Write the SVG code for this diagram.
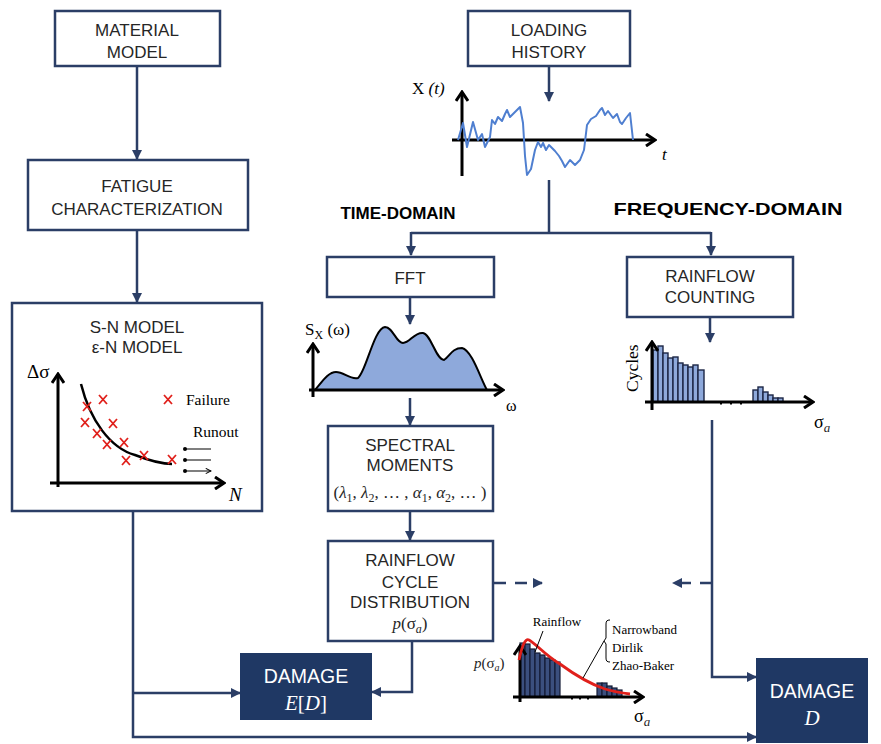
<svg xmlns="http://www.w3.org/2000/svg" width="881" height="744" viewBox="0 0 881 744">
  <defs>
    <style>
      .box { fill: #ffffff; stroke: #2b3e66; stroke-width: 2.5; }
      .dark { fill: #1f3864; stroke: #1f3864; stroke-width: 2; }
      .lbl { font-family: "Liberation Sans", Arial, sans-serif; font-size: 17px; fill: #262626; text-anchor: middle; }
      .wlbl { font-family: "Liberation Sans", Arial, sans-serif; font-size: 19.5px; fill: #ffffff; text-anchor: middle; }
      .wmath { font-family: "Liberation Serif", "Times New Roman", serif; font-style: italic; font-size: 21px; fill: #ffffff; text-anchor: middle; }
      .head { font-family: "Liberation Sans", Arial, sans-serif; font-size: 17px; font-weight: bold; fill: #000000; text-anchor: middle; }
      .ser { font-family: "Liberation Serif", "Times New Roman", serif; fill: #000000; }
      .math { font-family: "Liberation Serif", "Times New Roman", serif; font-style: italic; fill: #262626; }
      .conn { fill: none; stroke: #2b3e66; stroke-width: 2.5; }
      .dash { stroke-dasharray: 12 9; }
      .axis { fill: none; stroke: #000000; stroke-width: 3; }
      .fx { fill: none; stroke: #e0201b; stroke-width: 1.8; }
      .bar { fill: #8ea9db; stroke: #1c2645; stroke-width: 1.4; }
      .bar2 { fill: #3b4f7e; stroke: #141c36; stroke-width: 1.2; }
    </style>
    <marker id="arr" viewBox="0 0 10 10" refX="9" refY="5" markerWidth="10" markerHeight="10" markerUnits="userSpaceOnUse" orient="auto">
      <path d="M0,0 L10,5 L0,10 Z" fill="#2b3e66"/>
    </marker>
    <marker id="ax" viewBox="0 0 12 14" refX="10" refY="7" markerWidth="12" markerHeight="14" markerUnits="userSpaceOnUse" orient="auto">
      <path d="M1,1 L10,7 L1,13" fill="none" stroke="#000" stroke-width="3"/>
    </marker>
    <marker id="ro" viewBox="0 0 8 8" refX="7" refY="4" markerWidth="7" markerHeight="7" markerUnits="userSpaceOnUse" orient="auto">
      <path d="M1,1 L7,4 L1,7" fill="none" stroke="#000" stroke-width="1.2"/>
    </marker>
  </defs>

  <rect width="881" height="744" fill="#ffffff"/>

  <!-- connectors -->
  <g id="connectors">
    <path class="conn" d="M137,66 V159" marker-end="url(#arr)"/>
    <path class="conn" d="M137,230 V302" marker-end="url(#arr)"/>
    <path class="conn" d="M549,66 V101" marker-end="url(#arr)"/>
    <path class="conn" d="M549,180 V233"/>
    <path class="conn" d="M411,233 H711"/>
    <path class="conn" d="M411,232 V255" marker-end="url(#arr)"/>
    <path class="conn" d="M711,232 V255" marker-end="url(#arr)"/>
    <path class="conn" d="M410,297 V324" marker-end="url(#arr)"/>
    <path class="conn" d="M410,398 V425" marker-end="url(#arr)"/>
    <path class="conn" d="M710,317 V342" marker-end="url(#arr)"/>
    <path class="conn" d="M410,511 V540" marker-end="url(#arr)"/>
    <path class="conn dash" d="M494,583 H542" marker-end="url(#arr)"/>
    <path class="conn dash" d="M712,583 H673" marker-end="url(#arr)"/>
    <path class="conn" d="M712,420 V677 H756" marker-end="url(#arr)"/>
    <path class="conn" d="M133,511 V737 H756" marker-end="url(#arr)"/>
    <path class="conn" d="M133,693 H240" marker-end="url(#arr)"/>
    <path class="conn" d="M412,641 V692 H372" marker-end="url(#arr)"/>
  </g>

  <!-- material model -->
  <g id="material-model">
    <rect class="box" x="55" y="11" width="165" height="55"/>
    <text class="lbl" x="137" y="36">MATERIAL</text>
    <text class="lbl" x="137" y="58">MODEL</text>
  </g>

  <!-- fatigue characterization -->
  <g id="fatigue-characterization">
    <rect class="box" x="28" y="160" width="220" height="70"/>
    <text class="lbl" x="137" y="192">FATIGUE</text>
    <text class="lbl" x="137" y="215">CHARACTERIZATION</text>
  </g>

  <!-- S-N / e-N model with curve -->
  <g id="sn-model">
    <rect class="box" x="12" y="303" width="250" height="208"/>
    <text class="lbl" x="137" y="333">S-N MODEL</text>
    <text class="lbl" x="137" y="353">ε-N MODEL</text>
    <text class="ser" x="27" y="378" font-size="19">Δσ</text>
    <path class="axis" d="M58,487 V374" marker-end="url(#ax)"/>
    <path class="axis" d="M50,483 H224" marker-end="url(#ax)"/>
    <text class="ser" x="229" y="501" font-size="19" font-style="italic">N</text>
    <path d="M81,384 C90,420 110,448 135,455 C148,460 160,464 172,464" fill="none" stroke="#000" stroke-width="2.5"/>
    <g id="failure-marks">
      <path class="fx" d="M83,402 l8,9 M91,402 l-8,9"/>
      <path class="fx" d="M99,395 l8,9 M107,395 l-8,9"/>
      <path class="fx" d="M81,418 l8,9 M89,418 l-8,9"/>
      <path class="fx" d="M109,419 l8,9 M117,419 l-8,9"/>
      <path class="fx" d="M93,429 l8,9 M101,429 l-8,9"/>
      <path class="fx" d="M103,440 l8,9 M111,440 l-8,9"/>
      <path class="fx" d="M120,438 l8,9 M128,438 l-8,9"/>
      <path class="fx" d="M122,456 l8,9 M130,456 l-8,9"/>
      <path class="fx" d="M140,451 l8,9 M148,451 l-8,9"/>
      <path class="fx" d="M168,455 l8,9 M176,455 l-8,9"/>
      <path class="fx" d="M164,395 l8,9 M172,395 l-8,9"/>
    </g>
    <text class="ser" x="186" y="405" font-size="15.5">Failure</text>
    <text class="ser" x="193" y="437" font-size="15.5">Runout</text>
    <g id="runout-marks">
      <circle cx="185" cy="449" r="2"/>
      <circle cx="185" cy="460" r="2"/>
      <circle cx="185" cy="471" r="2"/>
      <path d="M185,449 H211 M185,460 H211 M185,471 H211" fill="none" stroke="#000" stroke-width="1.2" marker-end="url(#ro)"/>
    </g>
  </g>

  <!-- loading history -->
  <g id="loading-history">
    <rect class="box" x="468" y="11" width="162" height="55"/>
    <text class="lbl" x="549" y="36">LOADING</text>
    <text class="lbl" x="549" y="58">HISTORY</text>
  </g>

  <!-- load time series X(t) -->
  <g id="time-series">
    <text class="ser" x="412" y="94" font-size="17">X <tspan font-style="italic">(t)</tspan></text>
    <path class="axis" d="M462,176 V92" marker-end="url(#ax)"/>
    <path class="axis" d="M452,140 H655" marker-end="url(#ax)"/>
    <text class="ser" x="662" y="160" font-size="17" font-style="italic">t</text>
    <polyline fill="none" stroke="#4f7fd0" stroke-width="2" stroke-linejoin="round" points="458,140 463,123 467,147 473,122 478,140 482,134 485,147 490,137 492,120 495,124 498,117 502,121 505,114 507,110 510,117 515,112 520,107 523,123 525,156 527,175 531,169 535,150 538,142 541,147 543,143 546,150 549,145 552,148 555,151 559,156 562,161 565,167 570,160 575,165 580,160 584,150 587,125 591,119 596,116 600,110 602,108 605,115 608,111 613,118 617,114 620,122 622,124 626,118 630,113 633,140"/>
  </g>

  <!-- section headings -->
  <text class="head" x="398" y="219">TIME-DOMAIN</text>
  <text class="head" x="728" y="215" font-size="19" textLength="229" lengthAdjust="spacingAndGlyphs">FREQUENCY-DOMAIN</text>

  <!-- FFT -->
  <g id="fft">
    <rect class="box" x="327" y="257" width="167" height="40"/>
    <text class="lbl" x="410" y="284">FFT</text>
  </g>

  <!-- power spectral density -->
  <g id="psd">
    <path d="M315,390 C322,382 328,372 336,372 C344,372 350,380 358,378 C366,372 374,328 385,327 C393,327 396,343 403,343 C410,343 414,332 423,333 C431,334 436,360 444,360 C450,356 452,348 462,348 C472,350 481,380 487,390 Z" fill="#8ea9db" stroke="#000" stroke-width="2"/>
    <path class="axis" d="M313,397 V344" marker-end="url(#ax)"/>
    <path class="axis" d="M309,390 H503" marker-end="url(#ax)"/>
    <text class="ser" x="305" y="335" font-size="17">S<tspan font-size="12" dy="4">X</tspan><tspan dy="-4"> (ω)</tspan></text>
    <text class="ser" x="506" y="411" font-size="16">ω</text>
  </g>

  <!-- spectral moments -->
  <g id="spectral-moments">
    <rect class="box" x="328" y="426" width="165" height="85"/>
    <text class="lbl" x="410" y="451">SPECTRAL</text>
    <text class="lbl" x="410" y="471">MOMENTS</text>
    <text class="math" x="410" y="498" font-size="17" text-anchor="middle"><tspan font-style="normal">(</tspan>λ<tspan font-size="12" dy="4" font-style="normal">1</tspan><tspan dy="-4" font-style="normal">, </tspan>λ<tspan font-size="12" dy="4" font-style="normal">2</tspan><tspan dy="-4" font-style="normal">, … , </tspan>α<tspan font-size="12" dy="4" font-style="normal">1</tspan><tspan dy="-4" font-style="normal">, </tspan>α<tspan font-size="12" dy="4" font-style="normal">2</tspan><tspan dy="-4" font-style="normal">, … )</tspan></text>
  </g>

  <!-- rainflow cycle distribution -->
  <g id="rainflow-distribution">
    <rect class="box" x="328" y="541" width="165" height="100"/>
    <text class="lbl" x="410" y="566">RAINFLOW</text>
    <text class="lbl" x="410" y="588">CYCLE</text>
    <text class="lbl" x="410" y="608">DISTRIBUTION</text>
    <text class="math" x="410" y="629" font-size="17" text-anchor="middle">p<tspan font-style="normal">(σ</tspan><tspan font-size="12" dy="4">a</tspan><tspan font-style="normal" dy="-4">)</tspan></text>
  </g>

  <!-- rainflow counting -->
  <g id="rainflow-counting">
    <rect class="box" x="627" y="257" width="166" height="60"/>
    <text class="lbl" x="710" y="282">RAINFLOW</text>
    <text class="lbl" x="710" y="303">COUNTING</text>
  </g>

  <!-- counted cycles histogram -->
  <g id="cycle-histogram">
    <rect class="bar" x="653" y="350" width="5" height="52"/>
    <rect class="bar" x="658" y="346" width="5" height="56"/>
    <rect class="bar" x="663" y="353" width="5" height="49"/>
    <rect class="bar" x="668" y="358" width="5" height="44"/>
    <rect class="bar" x="673" y="357" width="5" height="45"/>
    <rect class="bar" x="678" y="363" width="5" height="39"/>
    <rect class="bar" x="683" y="365" width="5" height="37"/>
    <rect class="bar" x="688" y="367" width="5" height="35"/>
    <rect class="bar" x="693" y="365" width="5" height="37"/>
    <rect class="bar" x="698" y="370" width="6" height="32"/>
    <rect class="bar" x="753" y="390" width="5" height="12"/>
    <rect class="bar" x="758" y="387" width="5" height="15"/>
    <rect class="bar" x="763" y="392" width="5" height="10"/>
    <rect class="bar" x="768" y="395" width="5" height="7"/>
    <rect class="bar" x="773" y="398" width="5" height="4"/>
    <rect class="bar" x="778" y="398" width="5" height="4"/>
    <path d="M721,402 v2.5 M731,402 v2.5 M741,402 v2.5" stroke="#000" stroke-width="2"/>
    <path class="axis" d="M652,410 V342" marker-end="url(#ax)"/>
    <path class="axis" d="M645,402 H813" marker-end="url(#ax)"/>
    <text class="ser" transform="translate(638,392) rotate(-90)" font-size="17.5">Cycles</text>
    <text class="ser" x="814" y="428" font-size="18">σ<tspan class="math" font-size="13" dy="4">a</tspan></text>
  </g>

  <!-- rainflow pdf vs. spectral methods -->
  <g id="pdf-comparison">
    <rect class="bar2" x="520" y="643" width="5" height="54"/>
    <rect class="bar2" x="525" y="644" width="5" height="53"/>
    <rect class="bar2" x="530" y="649" width="5" height="48"/>
    <rect class="bar2" x="535" y="653" width="5" height="44"/>
    <rect class="bar2" x="540" y="655" width="5" height="42"/>
    <rect class="bar2" x="545" y="658" width="5" height="39"/>
    <rect class="bar2" x="550" y="660" width="5" height="37"/>
    <rect class="bar2" x="555" y="662" width="5" height="35"/>
    <rect class="bar2" x="597" y="683" width="5" height="14"/>
    <rect class="bar2" x="602" y="683" width="5" height="14"/>
    <rect class="bar2" x="607" y="686" width="5" height="11"/>
    <rect class="bar2" x="612" y="688" width="5" height="9"/>
    <rect class="bar2" x="617" y="690" width="5" height="7"/>
    <path d="M572,697 v2.5 M580,697 v2.5 M588,697 v2.5" stroke="#000" stroke-width="2"/>
    <path class="axis" d="M520,702 V646" marker-end="url(#ax)"/>
    <path class="axis" d="M513,697 H643" marker-end="url(#ax)"/>
    <path d="M519,660 C522,646 525,638 529,640 C535,643 545,655 560,664 C575,675 590,684 605,689 C615,692 622,693 630,694" fill="none" stroke="#e0201b" stroke-width="2.8"/>
    <text class="math" x="474" y="668" font-size="15">p<tspan font-style="normal">(σ</tspan><tspan font-size="10" dy="3">a</tspan><tspan font-style="normal" dy="-3">)</tspan></text>
    <text class="ser" x="557" y="626" font-size="13" text-anchor="middle">Rainflow</text>
    <path d="M543,631 L535,652" stroke="#000" stroke-width="1" fill="none"/>
    <path d="M610,620 C607,620 606,621 606,624 V638 L604,641 L606,644 V658 C606,661 607,662 610,662" stroke="#000" stroke-width="1" fill="none"/>
    <path d="M604,641 L583,678" stroke="#000" stroke-width="1" fill="none"/>
    <text class="ser" x="612" y="634" font-size="13">Narrowband</text>
    <text class="ser" x="612" y="652" font-size="13">Dirlik</text>
    <text class="ser" x="612" y="670" font-size="13">Zhao-Baker</text>
    <text class="ser" x="634" y="722" font-size="18">σ<tspan class="math" font-size="13" dy="4">a</tspan></text>
  </g>

  <!-- expected damage -->
  <g id="damage-expected">
    <rect class="dark" x="241" y="654" width="130" height="65"/>
    <text class="wlbl" x="306" y="683">DAMAGE</text>
    <text class="wmath" x="306" y="710">E<tspan font-style="normal">[</tspan>D<tspan font-style="normal">]</tspan></text>
  </g>

  <!-- damage -->
  <g id="damage">
    <rect class="dark" x="757" y="659" width="110" height="83"/>
    <text class="wlbl" x="812" y="698">DAMAGE</text>
    <text class="wmath" x="812" y="725">D</text>
  </g>
</svg>
